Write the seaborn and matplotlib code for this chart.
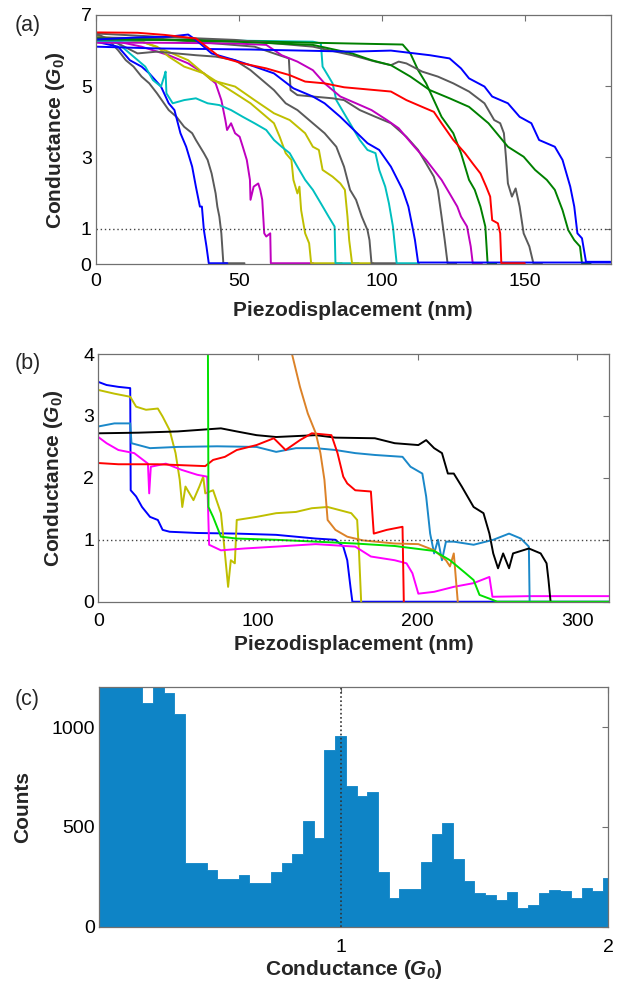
import pandas as pd
import matplotlib
matplotlib.use('Agg')
import matplotlib.pyplot as plt
import seaborn as sns

# ---- panel (a): breaking traces, x in nm, y in G0 ----
a_blue1_x = [0, 7.8, 11.9, 16.0, 18.7, 22.8, 25.5, 27.5, 29.6, 31.6, 33.7, 35.0, 36.4, 37.1, 37.8, 38.7, 39.5, 46]
a_blue1_y = [6.25, 6.11, 5.73, 5.55, 5.36, 4.99, 4.52, 4.33, 3.68, 3.30, 2.74, 2.18, 1.62, 1.62, 0.96, 0.50, 0.03, 0.03]

a_gray1_x = [0, 5.0, 7.8, 10.5, 13.2, 16.0, 18.7, 21.4, 25.5, 28.2, 30.9, 33.7, 35.0, 37.8, 39.1, 40.5, 41.9, 42.5, 43.2, 43.9, 44.6, 52]
a_gray1_y = [6.44, 6.25, 6.01, 5.73, 5.55, 5.27, 5.08, 4.80, 4.33, 4.14, 3.86, 3.68, 3.49, 3.12, 2.93, 2.55, 1.99, 1.62, 1.34, 0.87, 0.03, 0.03]

a_mag1_x = [0, 7.8, 16.0, 25.5, 32.3, 37.8, 41.9, 43.9, 45.3, 45.9, 47.3, 48.7, 50.3, 51.4, 52.8, 53.9, 54.1, 55.2, 56.8, 57.5, 58.2, 58.9, 59.6, 61.0, 61.2, 76]
a_mag1_y = [6.30, 6.25, 6.11, 5.87, 5.64, 5.36, 5.08, 4.61, 4.05, 3.77, 3.96, 3.68, 3.58, 3.30, 2.93, 2.37, 1.81, 2.18, 2.27, 2.09, 1.81, 0.87, 0.78, 0.87, 0.03, 0.03]

a_yel1_x = [0, 7.8, 16.0, 21.4, 25.5, 30.9, 37.8, 43.2, 48.7, 54.1, 58.2, 62.3, 64.3, 66.4, 68.4, 69.1, 70.5, 71.2, 71.8, 73.2, 74.6, 75.3, 86]
a_yel1_y = [6.37, 6.31, 6.25, 6.11, 5.83, 5.55, 5.36, 5.08, 4.80, 4.52, 4.24, 3.96, 3.58, 3.12, 2.93, 2.37, 1.99, 2.18, 1.52, 0.87, 0.59, 0.03, 0.03]

a_cyan1_x = [0, 7.8, 13.2, 17.3, 20.0, 22.8, 23.9, 24.4, 24.7, 26.9, 30.9, 35.0, 39.1, 43.2, 47.3, 51.4, 55.5, 59.6, 62.3, 65.0, 67.8, 70.5, 73.2, 75.9, 78.7, 81.4, 83.5, 83.8, 92]
a_cyan1_y = [6.31, 6.20, 5.83, 5.55, 5.17, 4.99, 5.27, 5.41, 4.80, 4.52, 4.61, 4.66, 4.52, 4.47, 4.33, 4.14, 3.96, 3.77, 3.49, 3.30, 3.12, 2.74, 2.37, 2.09, 1.71, 1.34, 1.06, 0.03, 0.03]

a_yel2_x = [0, 14.6, 24.1, 32.3, 40.5, 48.7, 55.5, 62.3, 67.8, 73.2, 75.9, 78.0, 79.3, 82.8, 85.5, 87.1, 88.0, 88.6, 89.6, 97]
a_yel2_y = [6.39, 6.30, 6.01, 5.73, 5.17, 4.99, 4.61, 4.24, 4.05, 3.68, 3.30, 3.21, 2.65, 2.46, 2.27, 2.09, 1.34, 0.68, 0.03, 0.03]

a_gray2_x = [0, 7.8, 14.6, 21.4, 28.2, 35.0, 41.9, 48.7, 54.1, 58.2, 62.3, 66.4, 70.5, 75.9, 80.0, 84.1, 86.8, 88.9, 91.0, 93.0, 95.0, 95.7, 96.4, 105]
a_gray2_y = [6.48, 6.20, 5.92, 5.97, 5.92, 5.87, 5.83, 5.73, 5.45, 5.17, 4.89, 4.52, 4.33, 3.96, 3.68, 3.30, 2.74, 2.09, 1.81, 1.34, 0.96, 0.68, 0.03, 0.03]

a_cyan2_x = [0, 21.4, 48.7, 75.9, 78.7, 79.3, 81.4, 82.8, 84.1, 86.8, 89.6, 92.3, 95.0, 97.8, 99.1, 101.2, 102.5, 103.9, 104.6, 105.2, 113]
a_cyan2_y = [6.25, 6.30, 6.28, 6.25, 6.20, 5.55, 5.27, 5.08, 4.61, 4.24, 3.86, 3.49, 3.21, 3.12, 2.65, 2.18, 1.71, 1.06, 0.50, 0.03, 0.03]

a_blue2_x = [0, 14.6, 25.5, 32.3, 35.0, 40.5, 48.7, 55.5, 62.3, 69.1, 75.9, 80.0, 85.5, 89.6, 95.0, 99.1, 103.2, 107.3, 109.3, 110.7, 111.6, 112.7, 180]
a_blue2_y = [6.31, 6.37, 6.39, 6.45, 6.30, 5.92, 5.73, 5.55, 5.36, 4.94, 4.71, 4.52, 4.14, 3.82, 3.40, 3.21, 2.74, 2.09, 1.62, 1.06, 0.68, 0.05, 0.05]

a_gray3_x = [0, 21.4, 41.9, 55.5, 62.3, 67.5, 68.1, 70.5, 75.9, 82.8, 86.8, 92.3, 97.8, 103.2, 108.6, 112.7, 115.5, 118.2, 119.6, 120.9, 122.0, 123.0, 126]
a_gray3_y = [6.37, 6.34, 6.20, 6.11, 5.92, 5.78, 4.89, 4.75, 4.71, 4.66, 4.61, 4.33, 4.14, 3.96, 3.58, 3.21, 2.83, 2.46, 2.09, 1.34, 0.68, 0.03, 0.03]

a_mag2_x = [0, 21.4, 48.7, 59.6, 65.0, 70.5, 75.9, 80.0, 85.5, 91.0, 96.4, 101.8, 105.9, 111.4, 115.5, 118.2, 120.9, 123.7, 126.4, 127.7, 129.8, 131.1, 131.8, 135]
a_mag2_y = [6.22, 6.22, 6.20, 6.16, 5.87, 5.69, 5.45, 5.08, 4.71, 4.52, 4.33, 4.05, 3.82, 3.30, 2.93, 2.65, 2.37, 1.99, 1.62, 1.34, 1.06, 0.50, 0.03, 0.03]

a_red_x = [0, 14.6, 24.1, 35.0, 43.2, 51.4, 59.6, 67.8, 73.2, 80.0, 86.8, 95.0, 103.2, 108.6, 114.1, 118.2, 120.9, 125.0, 129.1, 131.8, 134.5, 136.5, 137.9, 138.6, 140.6, 141.4, 141.8, 150]
a_red_y = [6.51, 6.50, 6.44, 6.34, 5.83, 5.64, 5.50, 5.31, 5.13, 5.08, 4.97, 4.91, 4.85, 4.61, 4.42, 4.28, 3.96, 3.49, 3.12, 2.83, 2.55, 2.18, 1.90, 1.24, 1.15, 0.87, 0.03, 0.03]

a_green1_x = [0, 35.0, 75.9, 107.3, 110.0, 112.7, 115.5, 118.2, 120.9, 125.0, 127.7, 130.5, 132.5, 134.5, 136.2, 137.0, 140]
a_green1_y = [6.31, 6.30, 6.22, 6.17, 5.92, 5.45, 5.08, 4.61, 4.14, 3.68, 3.12, 2.37, 2.09, 1.62, 1.06, 0.03, 0.03]

a_gray4_x = [0, 21.4, 48.7, 75.9, 89.6, 97.8, 103.2, 105.9, 108.6, 114.1, 119.6, 125.0, 130.5, 135.9, 139.3, 141.4, 142.7, 143.4, 144.1, 145.5, 146.8, 148.2, 149.6, 151.6, 153.0, 156]
a_gray4_y = [6.48, 6.39, 6.30, 6.11, 5.87, 5.69, 5.59, 5.69, 5.64, 5.41, 5.27, 5.08, 4.85, 4.52, 4.05, 3.96, 3.68, 3.02, 2.27, 1.90, 2.13, 1.62, 0.87, 0.50, 0.03, 0.03]

a_green2_x = [0, 48.7, 75.9, 89.6, 96.4, 103.2, 110.0, 116.8, 123.7, 130.5, 137.3, 144.1, 149.6, 153.6, 157.7, 160.5, 163.2, 165.2, 167.3, 169.3, 170.0, 173]
a_green2_y = [6.34, 6.25, 6.16, 5.92, 5.73, 5.59, 5.27, 4.89, 4.66, 4.42, 3.96, 3.30, 3.02, 2.65, 2.37, 2.09, 1.52, 0.96, 0.68, 0.50, 0.03, 0.03]

a_blue3_x = [0, 21.4, 54.1, 89.6, 103.2, 116.8, 123.7, 127.7, 130.5, 135.9, 138.6, 144.1, 148.2, 152.3, 155.0, 160.5, 163.2, 165.9, 167.3, 168.4, 170.0, 171.4, 180]
a_blue3_y = [6.11, 6.06, 6.03, 5.97, 6.00, 5.87, 5.78, 5.50, 5.22, 4.99, 4.71, 4.52, 4.14, 3.96, 3.49, 3.30, 2.93, 2.18, 1.62, 0.87, 0.73, 0.07, 0.07]

# ---- panel (b) ----
b_blue_x = [0, 5.2, 12.6, 20.0, 20.3, 23.7, 27.4, 32.4, 37.3, 40.3, 44.7, 62.0, 86.7, 111.4, 136.2, 148.5, 153.4, 155.9, 157.9, 159.1, 320]
b_blue_y = [3.55, 3.50, 3.47, 3.45, 1.80, 1.70, 1.53, 1.37, 1.32, 1.16, 1.13, 1.11, 1.10, 1.08, 1.02, 1.00, 0.89, 0.67, 0.24, 0, 0]

b_olive_x = [0, 10.1, 20.0, 23.7, 29.9, 37.3, 40.3, 44.7, 48.4, 51.0, 52.6, 54.6, 59.6, 63.3, 65.7, 67.0, 71.9, 76.8, 79.3, 81.3, 83.0, 85.5, 86.7, 99.1, 111.4, 123.8, 133.7, 143.6, 151.0, 158.4, 162.1, 163.3, 164.6]
b_olive_y = [3.42, 3.36, 3.31, 3.15, 3.10, 3.12, 2.99, 2.77, 2.40, 1.97, 1.53, 1.86, 1.64, 1.86, 2.02, 1.75, 1.80, 1.43, 0.78, 0.24, 0.67, 0.62, 1.32, 1.37, 1.43, 1.45, 1.51, 1.53, 1.48, 1.43, 1.32, 0.78, 0]

b_lblue_x = [0, 10.1, 20.0, 20.8, 32.4, 49.7, 74.4, 99.1, 111.4, 123.8, 136.2, 148.5, 160.9, 173.2, 190.5, 195.5, 202.9, 205.3, 207.8, 210.3, 212.7, 215.2, 217.7, 222.6, 235.0, 247.3, 257.2, 264.6, 269.6, 270.1]
b_lblue_y = [2.83, 2.88, 2.88, 2.56, 2.48, 2.50, 2.51, 2.50, 2.42, 2.48, 2.48, 2.45, 2.40, 2.37, 2.34, 2.18, 2.07, 1.70, 1.10, 0.78, 1.00, 0.67, 0.97, 0.97, 0.92, 1.00, 1.10, 1.02, 0.89, 0]

b_black_x = [0, 25.0, 49.7, 76.8, 86.7, 99.1, 111.4, 136.2, 148.5, 173.2, 185.6, 200.4, 205.3, 210.3, 215.2, 218.9, 222.6, 227.6, 235.0, 241.2, 244.9, 247.3, 250.3, 253.5, 257.2, 259.7, 269.6, 277.0, 280.7, 281.9, 283.2]
b_black_y = [2.72, 2.73, 2.75, 2.80, 2.75, 2.69, 2.66, 2.69, 2.65, 2.64, 2.56, 2.53, 2.61, 2.48, 2.40, 2.07, 2.07, 1.86, 1.53, 1.43, 1.10, 0.78, 0.54, 0.78, 0.54, 0.78, 0.86, 0.78, 0.62, 0.35, 0]

b_red_x = [0, 12.6, 37.3, 67.0, 71.9, 79.3, 86.7, 99.1, 109.9, 117.3, 126.3, 133.7, 146.0, 149.8, 153.4, 155.9, 160.9, 170.7, 172.5, 180.6, 190.5, 191.3]
b_red_y = [2.24, 2.22, 2.22, 2.19, 2.29, 2.34, 2.45, 2.53, 2.64, 2.45, 2.61, 2.72, 2.69, 2.40, 2.02, 1.91, 1.80, 1.78, 1.10, 1.16, 1.21, 0]

b_mag_x = [0, 5.2, 12.6, 22.5, 31.1, 31.9, 32.9, 42.3, 52.1, 62.0, 68.2, 69.4, 76.8, 91.7, 111.4, 136.2, 160.9, 170.7, 185.6, 193.0, 196.7, 200.4, 210.3, 222.6, 235.0, 244.9, 246.8, 269.6, 320]
b_mag_y = [2.66, 2.56, 2.45, 2.40, 2.23, 1.75, 2.18, 2.23, 2.13, 2.05, 2.02, 0.92, 0.83, 0.86, 0.89, 0.93, 0.89, 0.73, 0.67, 0.62, 0.46, 0.13, 0.16, 0.24, 0.30, 0.40, 0.08, 0.09, 0.09]

b_green_x = [68.6, 69.0, 71.9, 76.8, 86.7, 111.4, 136.2, 160.9, 185.6, 197.9, 210.3, 220.2, 230.0, 235.0, 238.7, 244.9, 249.8, 320]
b_green_y = [4.5, 1.53, 1.37, 1.05, 1.02, 1.00, 0.97, 0.94, 0.90, 0.86, 0.82, 0.67, 0.46, 0.35, 0.11, 0.05, 0, 0]

b_orange_x = [119.5, 121.3, 126.3, 131.2, 136.2, 139.1, 141.6, 143.6, 148.5, 155.9, 165.8, 185.6, 200.4, 210.3, 217.7, 220.2, 222.6, 225.1]
b_orange_y = [4.2, 4.0, 3.47, 3.04, 2.72, 2.40, 1.97, 1.32, 1.16, 1.05, 0.99, 0.94, 0.93, 0.83, 0.67, 0.57, 0.78, 0]

# ---- panel (c): conductance histogram, 0.04 G0 bins from 0.1 ----
c_counts = [1450, 1400, 1380, 1320, 1122, 1250, 1173, 1067, 320, 317, 283, 240,
            240, 260, 220, 220, 272, 317, 365, 530, 445, 888, 955, 705,
            657, 677, 272, 142, 190, 190, 322, 463, 522, 337, 230, 170,
            157, 133, 175, 92, 110, 168, 183, 177, 145, 193, 177, 242]
c_edges = [round(0.10 + 0.04 * i, 2) for i in range(49)]
hist_df = pd.DataFrame({'g': [round(e + 0.02, 2) for e in c_edges[:-1]], 'n': c_counts})

BLUE, GREEN, RED, CYAN = '#0000ff', '#008000', '#ff0000', '#00bfbf'
MAG, OLIVE, GRAY = '#bf00bf', '#bfbf00', '#5a5a5a'
HIST_BLUE = '#0e84c6'

sns.set_style('white')
plt.rcParams['font.family'] = ['Liberation Sans', 'DejaVu Sans']
plt.rcParams['mathtext.fontset'] = 'custom'
plt.rcParams['mathtext.rm'] = 'Liberation Sans:bold'
plt.rcParams['mathtext.it'] = 'Liberation Sans:bold:italic'
plt.rcParams['mathtext.bf'] = 'Liberation Sans:bold'

fig = plt.figure(figsize=(6.18, 9.84), dpi=100)
ax_a = fig.add_axes([0.155, 0.7314, 0.833, 0.2534])
ax_b = fig.add_axes([0.159, 0.3885, 0.827, 0.2517])
ax_c = fig.add_axes([0.161, 0.0582, 0.8235, 0.2433])

TICK_FS = 14
LABEL_FS = 15


def trace(ax, x, y, c, lw=1.4):
    sns.lineplot(x=x, y=y, color=c, lw=lw, sort=False, estimator=None,
                 ax=ax, legend=False)


def style(ax, xpad):
    for s in ax.spines.values():
        s.set_color('#707070')
        s.set_linewidth(0.9)
    ax.tick_params(direction='in', length=4, width=0.8, color='#707070',
                   top=True, right=True, labelsize=TICK_FS, labelcolor='black')
    ax.tick_params(axis='x', pad=xpad)
    ax.tick_params(axis='y', pad=3)


# (a)
a_traces = [
    (a_gray1_x, a_gray1_y, GRAY), (a_blue1_x, a_blue1_y, BLUE),
    (a_mag1_x, a_mag1_y, MAG), (a_yel1_x, a_yel1_y, OLIVE),
    (a_cyan1_x, a_cyan1_y, CYAN), (a_yel2_x, a_yel2_y, OLIVE),
    (a_gray2_x, a_gray2_y, GRAY), (a_cyan2_x, a_cyan2_y, CYAN),
    (a_gray3_x, a_gray3_y, GRAY), (a_mag2_x, a_mag2_y, MAG),
    (a_green1_x, a_green1_y, GREEN), (a_gray4_x, a_gray4_y, GRAY),
    (a_green2_x, a_green2_y, GREEN), (a_blue2_x, a_blue2_y, BLUE),
    (a_blue3_x, a_blue3_y, BLUE), (a_red_x, a_red_y, RED),
]
for x, y, c in a_traces:
    trace(ax_a, x, y, c)
ax_a.axhline(1, color='#444444', ls=(0, (1, 2)), lw=1.0)
ax_a.set_xlim(0, 180)
ax_a.set_ylim(0, 7)
ax_a.set_xticks([0, 50, 100, 150])
ax_a.set_yticks([0, 1, 3, 5, 7])
style(ax_a, 6.5)
ax_a.set_xlabel('Piezodisplacement (nm)', fontsize=LABEL_FS, fontweight='bold')
ax_a.set_ylabel('Conductance ($G_0$)', fontsize=LABEL_FS, fontweight='bold')
ax_a.xaxis.set_label_coords(0.5, -0.147)
ax_a.yaxis.set_label_coords(-0.056, 0.5)

# (b)
b_traces = [
    (b_blue_x, b_blue_y, BLUE), (b_olive_x, b_olive_y, OLIVE),
    (b_mag_x, b_mag_y, '#ff00ff'), (b_lblue_x, b_lblue_y, '#1a88c9'),
    (b_black_x, b_black_y, 'black'), (b_red_x, b_red_y, RED),
    (b_orange_x, b_orange_y, '#dc8228'), (b_green_x, b_green_y, '#00e000'),
]
for x, y, c in b_traces:
    trace(ax_b, x, y, c)
ax_b.axhline(1, color='#444444', ls=(0, (1, 2)), lw=1.0)
ax_b.set_xlim(0, 320)
ax_b.set_ylim(0, 4)
ax_b.set_xticks([0, 100, 200, 300])
ax_b.set_yticks([0, 1, 2, 3, 4])
style(ax_b, 8)
ax_b.set_xlabel('Piezodisplacement (nm)', fontsize=LABEL_FS, fontweight='bold')
ax_b.set_ylabel('Conductance ($G_0$)', fontsize=LABEL_FS, fontweight='bold')
ax_b.xaxis.set_label_coords(0.5, -0.134)
ax_b.yaxis.set_label_coords(-0.065, 0.5)

# (c)
sns.histplot(data=hist_df, x='g', weights='n', bins=c_edges, ax=ax_c,
             element='step', fill=True, color=HIST_BLUE, alpha=1,
             linewidth=0.6, edgecolor=HIST_BLUE)
ax_c.axvline(1, color='#333333', ls=(0, (1, 1.5)), lw=1.2)
ax_c.set_xlim(0.1, 2)
ax_c.set_ylim(0, 1200)
ax_c.set_xticks([1, 2])
ax_c.set_yticks([0, 500, 1000])
ax_c.set_xticks([round(0.16 + 0.08 * i, 2) for i in range(23)], minor=True)
style(ax_c, 9)
ax_c.tick_params(axis='x', which='minor', direction='in', length=3,
                 color='#b8c8d8', width=0.7, top=False)
ax_c.set_xlabel('Conductance ($G_0$)', fontsize=LABEL_FS, fontweight='bold')
ax_c.set_ylabel('Counts', fontsize=LABEL_FS, fontweight='bold')
ax_c.xaxis.set_label_coords(0.5, -0.131)
ax_c.yaxis.set_label_coords(-0.132, 0.5)

for lab, y in [('(a)', 25), ('(b)', 363), ('(c)', 699)]:
    fig.text(15 / 618, 1 - y / 984, lab, fontsize=15.5, va='center', ha='left')

fig.savefig('out.png', dpi=100)
